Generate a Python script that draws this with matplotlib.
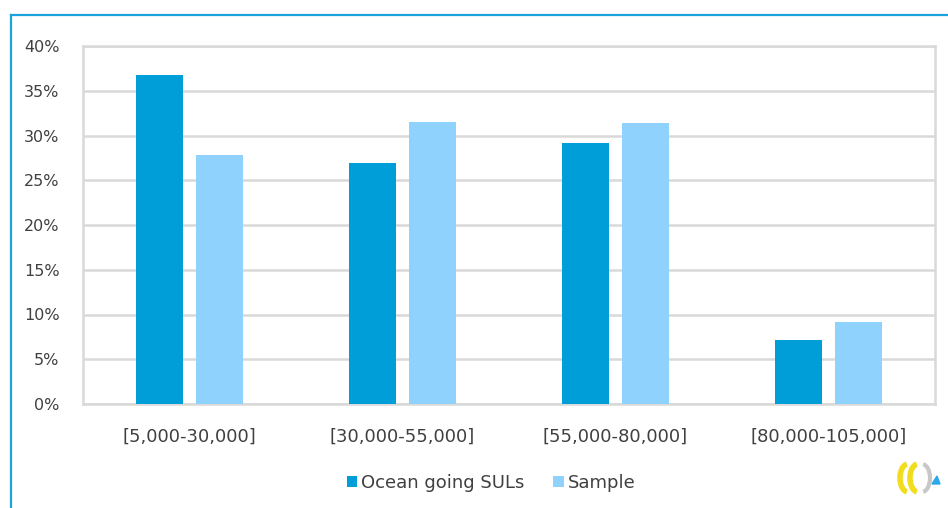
import matplotlib
matplotlib.use("Agg")
import matplotlib.pyplot as plt
from matplotlib.lines import Line2D
from matplotlib.patches import Arc, Polygon
from matplotlib.ticker import MultipleLocator, FuncFormatter
import numpy as np

# data
categories = ["[5,000-30,000]", "[30,000-55,000]", "[55,000-80,000]", "[80,000-105,000]"]
ocean_going = [36.8, 26.9, 29.2, 7.2]
sample = [27.8, 31.5, 31.4, 9.2]
series_names = ["Ocean going SULs", "Sample"]

dark_blue = "#009ED8"
light_blue = "#8FD2FE"
grid_grey = "#D9D9D9"
text_col = "#404040"
frame_blue = "#1CA2DC"

plt.rcParams['font.family'] = ['DejaVu Sans']

fig = plt.figure(figsize=(9.48, 5.08), dpi=100)
ax = fig.add_axes([83/948, 1 - 404/508, (935 - 83)/948, (404 - 46)/508])

x = np.arange(len(categories))
w = 0.22
ax.bar(x - 0.142, ocean_going, width=w, color=dark_blue, label=series_names[0], zorder=3)
ax.bar(x + 0.142, sample, width=w, color=light_blue, label=series_names[1], zorder=3)

ax.set_xlim(-0.5, len(categories) - 0.5)
ax.set_ylim(0, 40)
ax.yaxis.set_major_locator(MultipleLocator(5))
ax.yaxis.set_major_formatter(FuncFormatter(lambda v, p: "%d%%" % v))
ax.set_xticks(x)
ax.set_xticklabels(categories)
ax.grid(axis="y", color=grid_grey, linewidth=1.8, zorder=0)
for s in ax.spines.values():
    s.set_color(grid_grey)
    s.set_linewidth(1.8)
ax.tick_params(length=0, colors=text_col)
ax.tick_params(axis="y", pad=17, labelsize=11.5)
ax.tick_params(axis="x", pad=17, labelsize=13)

leg = fig.legend(loc="center", bbox_to_anchor=(491/948, 1 - 483/508), ncol=2, frameon=False,
                 fontsize=13, handlelength=0.6, handleheight=0.6, handletextpad=0.2,
                 columnspacing=1.6)
for t in leg.get_texts():
    t.set_color(text_col)

# blue frame, cut off on right and bottom
fig.add_artist(Line2D([11/948, 11/948], [0, 1 - 15/508], transform=fig.transFigure,
                      color=frame_blue, linewidth=1.6))
fig.add_artist(Line2D([11/948, 1], [1 - 15/508, 1 - 15/508], transform=fig.transFigure,
                      color=frame_blue, linewidth=1.6))

# small logo at bottom right
lax = fig.add_axes([895/948, 1 - 496/508, 48/948, 36/508])
lax.set_xlim(0, 48)
lax.set_ylim(0, 36)
lax.axis("off")
lax.add_patch(Arc((13, 18), 16, 28, theta1=95, theta2=265, color="#F2DC1E", linewidth=4))
lax.add_patch(Arc((23, 18), 16, 28, theta1=95, theta2=265, color="#F2DC1E", linewidth=4))
lax.add_patch(Arc((27, 18), 16, 28, theta1=-85, theta2=85, color="#C8C8C8", linewidth=3))
lax.add_patch(Polygon([[37, 12], [45, 12], [42, 20]], closed=True, color="#2AA8E8"))

fig.savefig("out.png", dpi=100)
